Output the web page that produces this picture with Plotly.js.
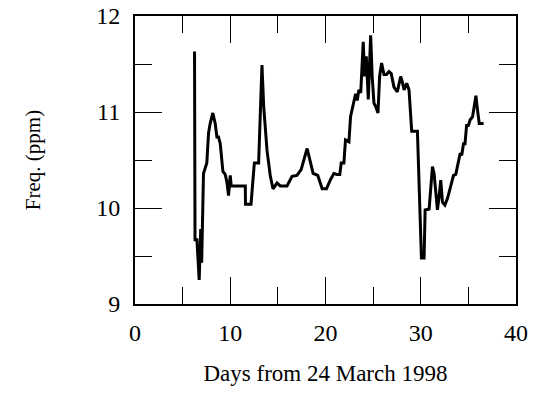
<!DOCTYPE html>
<html><head><meta charset="utf-8">
<script src="https://cdn.plot.ly/plotly-3.0.1.min.js"></script>
<style>html,body{margin:0;padding:0;background:#fff;}#chart{width:536px;height:393px;}</style>
</head><body><div id="chart"></div>
<script>
const days = [6.25,6.3,6.5,6.74,6.9,7.0,7.19,7.54,7.72,7.89,8.17,8.42,8.6,8.77,8.95,9.23,9.47,9.65,9.82,10.0,10.1,11.58,11.6,12.18,12.53,12.98,13.33,13.51,13.86,14.21,14.49,14.91,15.26,15.96,16.49,17.0,17.44,18.07,18.7,18.95,19.19,19.65,20.1,20.5,20.88,21.2,21.5,21.65,21.93,22.1,22.46,22.63,22.98,23.16,23.33,23.5,23.7,23.96,24.1,24.28,24.49,24.74,24.9,25.09,25.26,25.51,25.68,25.89,26.14,26.4,26.67,26.9,27.19,27.54,27.89,28.05,28.25,28.53,28.77,29.05,29.65,29.8,30.07,30.35,30.46,30.88,31.05,31.23,31.4,31.58,31.75,31.93,32.1,32.28,32.53,32.81,33.16,33.44,33.68,33.93,34.14,34.3,34.49,34.65,34.81,35.0,35.19,35.44,35.79,35.96,36.14,36.6];
const freq = [11.63,9.67,9.67,9.25,9.78,9.43,10.36,10.47,10.78,10.88,10.99,10.88,10.74,10.74,10.67,10.38,10.35,10.27,10.13,10.34,10.23,10.23,10.04,10.04,10.47,10.47,11.49,11.06,10.6,10.33,10.2,10.26,10.23,10.23,10.33,10.34,10.4,10.62,10.36,10.35,10.34,10.2,10.2,10.29,10.36,10.35,10.35,10.47,10.47,10.71,10.69,10.95,11.09,11.19,11.12,11.23,11.2,11.73,11.37,11.58,11.13,11.8,11.37,11.09,11.06,10.99,11.37,11.51,11.39,11.39,11.42,11.4,11.26,11.21,11.37,11.32,11.23,11.3,11.23,10.8,10.8,10.3,9.48,9.48,9.98,9.99,10.22,10.43,10.36,10.19,9.98,10.12,10.29,10.06,10.03,10.1,10.22,10.34,10.35,10.47,10.57,10.55,10.67,10.67,10.86,10.86,10.92,10.95,11.17,11.02,10.88,10.88];
const xTickVals = [0,10,20,30,40];
const yTickVals = [9,10,11,12];

const font = {family:'"Liberation Serif","Times New Roman",serif', color:'#000'};
Plotly.newPlot('chart', [{
  x: days, y: freq, type:'scatter', mode:'lines',
  line:{color:'#000', width:3}, hoverinfo:'skip'
}], {
  width:536, height:393,
  margin:{l:135, r:20, t:16, b:89},
  paper_bgcolor:'#fff', plot_bgcolor:'#fff',
  showlegend:false,
  xaxis:{range:[0,40], tickvals:xTickVals, ticks:'inside', ticklen:27, tickwidth:1, tickcolor:'#000',
    showline:true, linewidth:2, linecolor:'#000', mirror:'ticks', showgrid:false, zeroline:false,
    minor:{dtick:5, tick0:0, ticks:'inside', ticklen:17, tickwidth:1, tickcolor:'#000'},
    tickfont:Object.assign({size:24}, font), ticklabelstandoff:6,
    title:{text:'Days from 24 March 1998', font:Object.assign({size:23}, font), standoff:20}},
  yaxis:{range:[9,12], tickvals:yTickVals, ticks:'inside', ticklen:27, tickwidth:1, tickcolor:'#000',
    showline:true, linewidth:2, linecolor:'#000', mirror:'ticks', showgrid:false, zeroline:false,
    minor:{dtick:0.5, tick0:9, ticks:'inside', ticklen:17, tickwidth:1, tickcolor:'#000'},
    tickfont:Object.assign({size:24}, font), ticklabelstandoff:8,
    title:{text:'Freq. (ppm)', font:Object.assign({size:21}, font), standoff:50}}
}, {staticPlot:true});
</script></body></html>
